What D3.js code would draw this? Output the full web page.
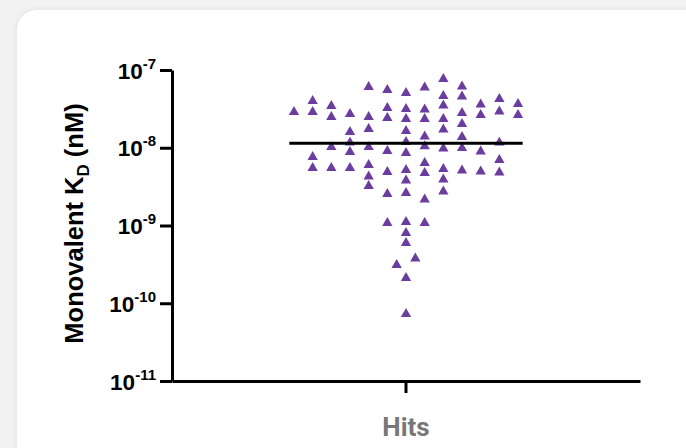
<!doctype html>
<html lang="en">
  <head>
    <meta charset="UTF-8" />
    <title>Monovalent KD of hits</title>
    <script src="https://d3js.org/d3.v7.min.js"></script>
    <style>
      body {
        margin: 0;
        width: 686px;
        height: 448px;
        overflow: hidden;
        background-color: #f2f2f2;
        font-family: 'Liberation Sans', Arial, sans-serif;
      }

      .card {
        position: absolute;
        left: 17px;
        top: 10px;
        width: 700px;
        height: 460px;
        background: white;
        border-radius: 20px;
        box-shadow: 0 0 6px rgba(0, 0, 0, 0.08);
      }

      svg {
        position: absolute;
        left: 0;
        top: 0;
      }

      .tick-label {
        font-weight: bold;
        font-size: 22.5px;
        fill: #000;
      }

      .y-label {
        font-weight: bold;
        font-size: 25.5px;
        text-anchor: middle;
      }

      .x-label {
        font-family: Roboto, sans-serif;
        font-weight: bold;
        font-size: 26px;
        fill: #777;
        text-anchor: middle;
      }
    </style>
  </head>
  <body>
    <div class="card"></div>
    <svg id="chart" width="686" height="448"></svg>

    <script>
      // Category on the x axis
      const categories = ['Hits']

      // Y axis decades (exponents of 10)
      const yTickExponents = [-7, -8, -9, -10, -11]

      // Monovalent KD values (M), with the lane each point sits in
      const kdValues = [
        2.97e-8,
        4.11e-8, 2.97e-8, 7.83e-9, 5.65e-9,
        3.55e-8, 2.56e-8, 1.05e-8, 5.65e-9,
        2.8e-8, 1.64e-8, 1.2e-8, 9.08e-9, 5.65e-9,
        6.23e-8, 2.56e-8, 1.8e-8, 1.05e-8, 6.18e-9, 4.4e-9, 3.32e-9,
        5.7e-8, 3.34e-8, 2.49e-8, 9.36e-9, 5.02e-9, 2.62e-9, 1.11e-9,
        5.21e-8, 3.25e-8, 2.41e-8, 1.69e-8, 1.22e-8, 8.82e-9, 5.33e-9, 3.91e-9, 2.7e-9,
        1.14e-9, 8.25e-10, 6.13e-10, 2.18e-10, 7.49e-11,
        3.2e-10, 3.88e-10,
        6.14e-8, 3.2e-8, 2.41e-8, 1.44e-8, 1.08e-8, 6.56e-9, 4.88e-9, 2.22e-9, 1.11e-9,
        7.89e-8, 4.77e-8, 3.6e-8, 2.41e-8, 1.77e-8, 1.01e-8, 5.49e-9, 4.02e-9, 2.82e-9,
        6.32e-8, 4.7e-8, 2.88e-8, 2.08e-8, 1.42e-8, 1.02e-8, 5.25e-9,
        3.71e-8, 2.72e-8, 9.22e-9, 5.1e-9,
        4.36e-8, 3.01e-8, 1.2e-8, 7.17e-9, 4.95e-9,
        3.77e-8, 2.72e-8,
      ]

      const kdLanes = [
        -6,
        -5, -5, -5, -5,
        -4, -4, -4, -4,
        -3, -3, -3, -3, -3,
        -2, -2, -2, -2, -2, -2, -2,
        -1, -1, -1, -1, -1, -1, -1,
        0, 0, 0, 0, 0, 0, 0, 0, 0,
        0, 0, 0, 0, 0,
        -0.5, 0.5,
        1, 1, 1, 1, 1, 1, 1, 1, 1,
        2, 2, 2, 2, 2, 2, 2, 2, 2,
        3, 3, 3, 3, 3, 3, 3,
        4, 4, 4, 4,
        5, 5, 5, 5, 5,
        6, 6,
      ]

      const points = kdValues.map((v, i) => ({ category: 'Hits', value: v, lane: kdLanes[i] }))
      const median = d3.median(kdValues)

      const svg = d3.select('#chart')
      const margin = { top: 70, right: 46, bottom: 67, left: 172 }
      const width = +svg.attr('width')
      const height = +svg.attr('height')
      const chartWidth = width - margin.left - margin.right
      const chartHeight = height - margin.top - margin.bottom

      const x = d3.scaleBand().domain(categories).range([0, chartWidth])

      // spread of the scatter inside the band
      const laneScale = d3.scaleLinear().domain([-1, 1]).range([-18.67, 18.67])

      const y = d3.scaleLog().domain([1e-11, 1e-7]).range([chartHeight, 0])

      const g = svg.append('g').attr('transform', `translate(${margin.left},${margin.top})`)

      // Y axis
      const yAxis = g
        .append('g')
        .call(
          d3
            .axisLeft(y)
            .tickValues(yTickExponents.map((e) => Math.pow(10, e)))
            .tickSize(12)
            .tickSizeOuter(0)
            .tickFormat('')
        )
      yAxis.select('.domain').attr('stroke-width', 3)
      yAxis.selectAll('.tick line').attr('stroke-width', 3)

      // tick labels with superscript exponent
      const labels = g
        .selectAll('.tick-label')
        .data(yTickExponents)
        .enter()
        .append('text')
        .attr('class', 'tick-label')
        .attr('x', -16)
        .attr('y', (e) => y(Math.pow(10, e)) + 8.5)
        .attr('text-anchor', 'end')
      labels.append('tspan').text('10')
      labels
        .append('tspan')
        .attr('dy', -10)
        .style('font-size', '15px')
        .text((e) => e)

      // X axis
      const xAxis = g
        .append('g')
        .attr('transform', `translate(0,${chartHeight})`)
        .call(d3.axisBottom(x).tickSize(12).tickSizeOuter(0).tickFormat(''))
      xAxis.select('.domain').attr('stroke-width', 3)
      xAxis.selectAll('.tick line').attr('stroke-width', 3)

      g.append('text')
        .attr('class', 'x-label')
        .attr('x', x('Hits') + x.bandwidth() / 2)
        .attr('y', chartHeight + 55)
        .text('Hits')

      // Y axis title
      const yLabel = g
        .append('text')
        .attr('class', 'y-label')
        .attr('transform', `translate(${-89},${chartHeight / 2 - 2}) rotate(-90)`)
      yLabel.append('tspan').text('Monovalent K')
      yLabel.append('tspan').attr('dy', 6).style('font-size', '17px').text('D')
      yLabel.append('tspan').attr('dy', -6).text(' (nM)')

      // points
      const cx = (d) => x(d.category) + x.bandwidth() / 2 + laneScale(d.lane)
      g.selectAll('.pt')
        .data(points)
        .enter()
        .append('path')
        .attr('class', 'pt')
        .attr('d', d3.symbol().type(d3.symbolTriangle).size(46))
        .attr('transform', (d) => `translate(${cx(d)},${y(d.value) + 1})`)
        .attr('fill', '#6a3d9e')

      // median line
      const mid = x('Hits') + x.bandwidth() / 2
      g.append('line')
        .attr('x1', mid + laneScale(-6.25))
        .attr('x2', mid + laneScale(6.25))
        .attr('y1', y(median))
        .attr('y2', y(median))
        .attr('stroke', '#000')
        .attr('stroke-width', 3)
    </script>
  </body>
</html>
